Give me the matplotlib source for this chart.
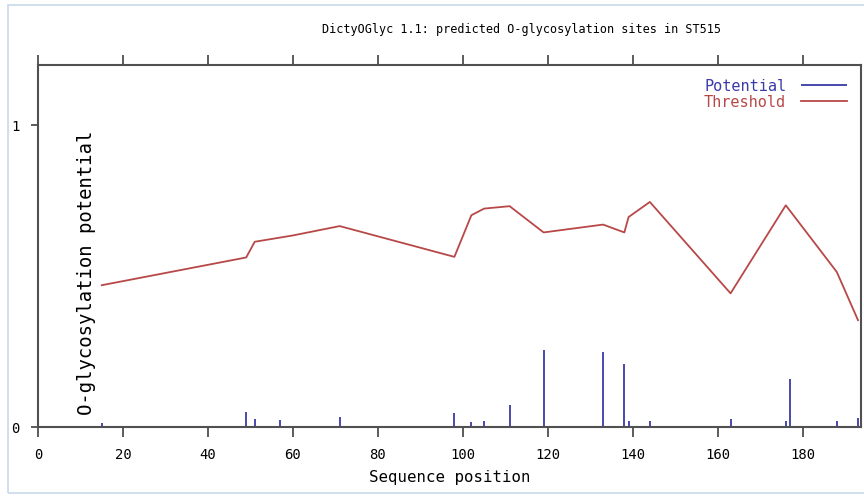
import matplotlib.pyplot as plt
from matplotlib.patches import Rectangle

# Threshold curve vertices (sequence position, value)
thr_pos = [15, 49, 51, 60, 71, 98, 102, 105, 111, 119, 133, 138, 139, 144, 163, 176, 188, 193]
thr_val = [0.47, 0.562, 0.614, 0.635, 0.666, 0.564, 0.702, 0.724, 0.732, 0.645,
           0.671, 0.645, 0.696, 0.746, 0.443, 0.735, 0.514, 0.354]

# Potential per site
pot_pos = [15, 49, 51, 57, 71, 98, 102, 105, 111, 119, 133, 138, 139, 144, 163, 176, 177, 188, 193]
pot_val = [0.012, 0.05, 0.027, 0.023, 0.034, 0.046, 0.015, 0.02, 0.073, 0.255,
           0.25, 0.21, 0.02, 0.02, 0.027, 0.02, 0.16, 0.02, 0.03]

xticks = [0, 20, 40, 60, 80, 100, 120, 140, 160, 180]
yticks = [0, 1]

blue = '#3a3aa8'
red = '#b84848'
mono = 'DejaVu Sans Mono'

fig = plt.figure(figsize=(8.64, 4.98), dpi=100)
fig.patches.append(Rectangle((8 / 864, 5 / 498), 1, 488 / 498, transform=fig.transFigure,
                             fill=False, edgecolor='#c8d8ea', linewidth=1.2))

ax = fig.add_axes([38 / 864, 1 - 427 / 498, 823 / 864, 362 / 498])
ax.vlines(pot_pos, 0, pot_val, color=blue, linewidth=1.3, label='Potential')
ax.plot(thr_pos, thr_val, color=red, linewidth=1.3, label='Threshold')

ax.set_xlim(0, 193.7)
ax.set_ylim(0, 1.2)
ax.set_xticks(xticks)
ax.set_yticks(yticks)
ax.tick_params(axis='x', which='both', top=True, direction='out', length=7, width=1.2,
               color='#404040', labelsize=10, pad=8)
ax.tick_params(axis='y', direction='out', length=5, width=1.2, color='#404040',
               labelsize=10, pad=8)
for lab in ax.get_xticklabels() + ax.get_yticklabels():
    lab.set_family(mono)
for s in ax.spines.values():
    s.set_color('#505050')
    s.set_linewidth(1.5)

ax.set_xlabel('Sequence position', family=mono, fontsize=11.3, labelpad=6)
ax.text(0.0595, 0.425, 'O-glycosylation potential', transform=ax.transAxes, rotation=90,
        ha='center', va='center', family=mono, fontsize=13.6)
fig.text(522 / 864, 1 - 30 / 498, 'DictyOGlyc 1.1: predicted O-glycosylation sites in ST515',
         ha='center', va='center', family=mono, fontsize=8.5)

leg = ax.legend(loc='upper right', frameon=False, markerfirst=False,
                prop={'family': mono, 'size': 11}, handlelength=3, labelspacing=0.05,
                borderaxespad=0.5, handletextpad=1.0)
for txt, col in zip(leg.get_texts(), [blue, red]):
    txt.set_color(col)

fig.savefig('out.png', dpi=100)
